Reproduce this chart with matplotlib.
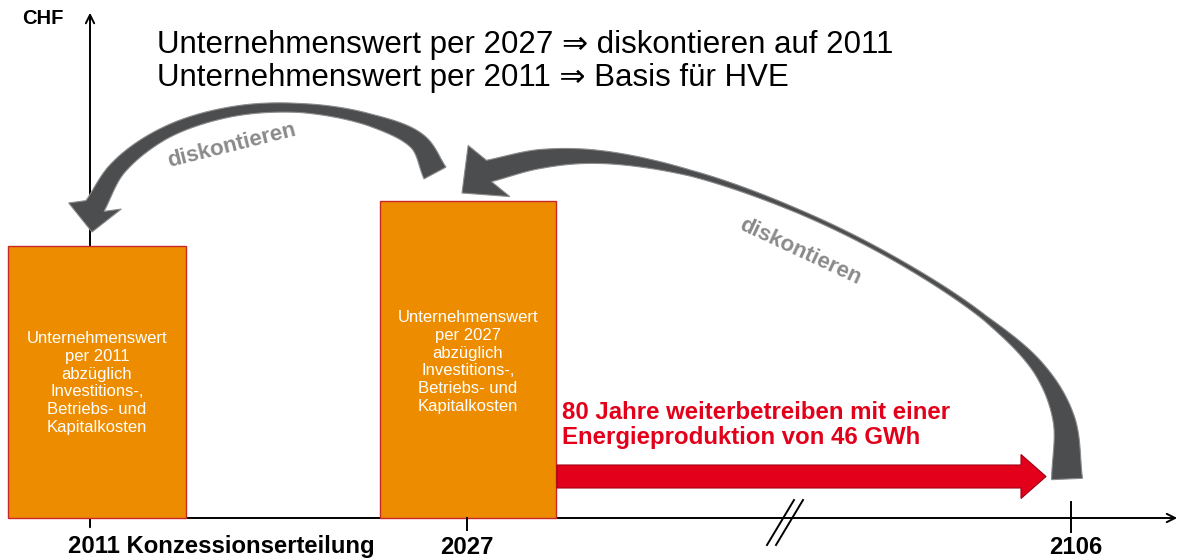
"""
Unternehmenswert / Diskontierung – Schema mit zwei Balken und gebogenen Pfeilen
"""
import numpy as np
import matplotlib
matplotlib.use("Agg")
import matplotlib.pyplot as plt
from matplotlib.patches import Polygon, FancyArrow

# ─── Daten ───────────────────────────────────────────────────────────────────
years       = ["2011", "2027"]
values      = [272, 317]                      # Balkenhöhe (CHF, schematisch)
bar_texts   = [
    "Unternehmenswert\nper 2011\nabzüglich\nInvestitions-,\nBetriebs- und\nKapitalkosten",
    "Unternehmenswert\nper 2027\nabzüglich\nInvestitions-,\nBetriebs- und\nKapitalkosten",
]
tick_labels = ["2011 Konzessionserteilung", "2027", "2106"]
headline    = ["Unternehmenswert per 2027 \u21d2 diskontieren auf 2011",
               "Unternehmenswert per 2011 \u21d2 Basis für HVE"]
red_text    = "80 Jahre weiterbetreiben mit einer\nEnergieproduktion von 46 GWh"

# ─── Layout / Stil ───────────────────────────────────────────────────────────
W, H   = 1182, 559
Y0     = 518                       # Pixelzeile der x-Achse
bar_x  = [97, 468]
bar_w  = [178, 176]
tick_x = [90, 467, 1071]

ORANGE = "#EE8C00"
RED    = "#E2001A"
GREY   = "#4B4D4F"
FONT   = ["Liberation Sans", "DejaVu Sans"]

plt.rcParams["font.family"] = FONT


def D(x, y):
    """Pixelkoordinate -> Datenkoordinate"""
    return np.array([x, Y0 - y], float)


def smooth(pts, n=30):
    # zentripetale Catmull-Rom durch die Stützpunkte
    pts = np.asarray(pts, float)
    ext = np.vstack([2 * pts[0] - pts[1], pts, 2 * pts[-1] - pts[-2]])
    out = []
    for i in range(1, len(ext) - 2):
        p0, p1, p2, p3 = ext[i - 1:i + 3]
        t0 = 0.0
        t1 = t0 + np.linalg.norm(p1 - p0) ** 0.5
        t2 = t1 + np.linalg.norm(p2 - p1) ** 0.5
        t3 = t2 + np.linalg.norm(p3 - p2) ** 0.5
        for t in np.linspace(t1, t2, n, endpoint=False):
            a1 = (t1 - t) / (t1 - t0) * p0 + (t - t0) / (t1 - t0) * p1
            a2 = (t2 - t) / (t2 - t1) * p1 + (t - t1) / (t2 - t1) * p2
            a3 = (t3 - t) / (t3 - t2) * p2 + (t - t2) / (t3 - t2) * p3
            b1 = (t2 - t) / (t2 - t0) * a1 + (t - t0) / (t2 - t0) * a2
            b2 = (t3 - t) / (t3 - t1) * a2 + (t - t1) / (t3 - t1) * a3
            out.append((t2 - t) / (t2 - t1) * b1 + (t - t1) / (t2 - t1) * b2)
    out.append(pts[-1])
    return np.array(out)


def curved_arrow(ax, pts, widths, tip, head_w, n=30):
    # widths: eine Breite je Stützpunkt
    c = smooth([D(*p) for p in pts], n)
    d = np.gradient(c, axis=0)
    d /= np.linalg.norm(d, axis=1)[:, None]
    nrm = np.column_stack([-d[:, 1], d[:, 0]])
    idx = np.arange(len(c)) / n
    w = np.interp(idx, np.arange(len(pts)), widths) / 2
    left  = c + nrm * w[:, None]
    right = c - nrm * w[:, None]
    tp = D(*tip)
    base = c[-1]
    hd = (tp - base) / np.linalg.norm(tp - base)
    hp = np.array([-hd[1], hd[0]])
    head = [base + hp * head_w / 2, tp, base - hp * head_w / 2]
    poly = np.vstack([left, head, right[::-1]])
    ax.add_patch(Polygon(poly, closed=True, facecolor=GREY,
                         edgecolor="#8C8C8C", lw=0.8, zorder=4))


fig = plt.figure(figsize=(W / 100, H / 100), dpi=100)
ax = fig.add_axes([0, 0, 1, 1])
ax.set_xlim(0, W)
ax.set_ylim(Y0 - H, Y0)
ax.axis("off")

# Balken
ax.bar(bar_x, values, width=bar_w, color=ORANGE, edgecolor="#C8282A",
       linewidth=1.0, zorder=2)
text_y = [383, 362]
for x, txt, ty in zip(bar_x, bar_texts, text_y):
    ax.text(x, Y0 - ty, txt, ha="center", va="center", color="white",
            fontsize=12, linespacing=1.22, zorder=3)

# Achsen
arrow_kw = dict(arrowstyle="->,head_length=0.6,head_width=0.3", lw=1.4, color="black")
ax.annotate("", xy=(90, Y0 - 10), xytext=(90, Y0 - 530), arrowprops=arrow_kw, zorder=1)
ax.annotate("", xy=(1180, 0), xytext=(90, 0), arrowprops=arrow_kw, zorder=1)
ax.text(22, Y0 - 19, "CHF", fontsize=14.5, fontweight="bold", va="center")

# Ticks + Achsenbruch
ax.plot([tick_x[1]] * 2, [0, -12], color="black", lw=1.4)
ax.plot([tick_x[2]] * 2, [16, -14], color="black", lw=1.4)
for dx in (0, 9):
    ax.plot([767 + dx, 794 + dx], [Y0 - 545, Y0 - 500], color="black", lw=1.4)
ax.text(68, Y0 - 547, tick_labels[0], fontsize=17.2, fontweight="bold", va="center")
ax.text(tick_x[1], Y0 - 547, tick_labels[1], fontsize=17.2, fontweight="bold",
        va="center", ha="center")
ax.text(tick_x[2] + 5, Y0 - 547, tick_labels[2], fontsize=17.2, fontweight="bold",
        va="center", ha="center")

# Überschrift
for i, line in enumerate(headline):
    ax.text(157, Y0 - 45 - 33 * i, line, fontsize=22.5, va="center")

# roter Pfeil
ax.add_patch(FancyArrow(557, Y0 - 476.5, 1046 - 557, 0, width=23, head_width=44,
                        head_length=25, length_includes_head=True,
                        facecolor=RED, edgecolor="#A00014", lw=0.8, zorder=3))
ax.text(562, Y0 - 425, red_text, color=RED, fontsize=17.3, fontweight="bold",
        va="center", linespacing=1.15)

# gebogene Pfeile "diskontieren"
curved_arrow(ax,
             [(435, 173), (418, 142), (370, 120), (300, 108), (230, 112),
              (165, 133), (118, 168), (95, 206)],
             [25, 18, 12, 9, 10, 12, 16, 21], tip=(92, 232), head_w=53)
curved_arrow(ax,
             [(1067, 479), (1064, 420), (1040, 370), (985, 318), (900, 262),
              (800, 212), (690, 173), (600, 157), (540, 159), (489, 171)],
             [31, 22, 13, 5, 4, 4, 6, 13, 19, 22],
             tip=(462, 193), head_w=66)

ax.text(232, Y0 - 146, "diskontieren", color="#8A8A8A", fontsize=16,
        fontweight="bold", rotation=14, ha="center", va="center")
ax.text(800, Y0 - 252, "diskontieren", color="#8A8A8A", fontsize=16,
        fontweight="bold", rotation=-25, ha="center", va="center")

fig.savefig("out.png", dpi=100)
